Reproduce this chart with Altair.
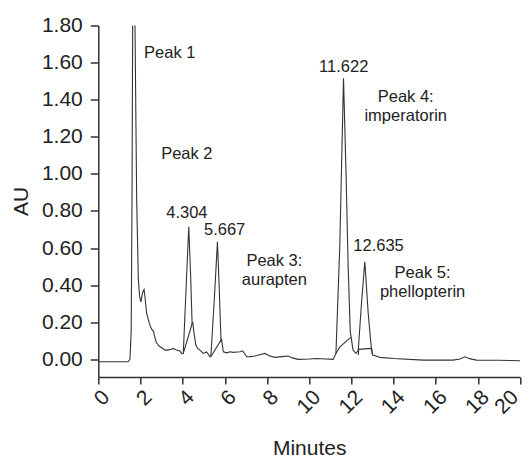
import altair as alt
import pandas as pd

# Chromatogram trace (minutes, AU)
trace_t = [0, 1.42, 1.5, 1.56, 1.6, 1.63, 1.68, 1.74, 1.82, 1.9, 1.96, 2.02, 2.1, 2.17,
           2.23, 2.29, 2.42, 2.5, 2.56, 2.62, 2.66, 2.74, 2.85, 2.93, 3.05, 3.16, 3.3,
           3.45, 3.56, 3.7, 3.87, 3.97, 4.03, 4.15, 4.29, 4.38, 4.45, 4.48, 4.53, 4.62,
           4.7, 4.82, 4.98, 5.14, 5.3, 5.34, 5.5, 5.65, 5.73, 5.82, 5.85, 5.93, 6.1,
           6.24, 6.4, 6.6, 6.72, 6.85, 7.04, 7.2, 7.43, 7.7, 7.9, 8.1, 8.38, 8.7, 9.01,
           9.2, 9.48, 10.0, 10.36, 10.8, 11.14, 11.27, 11.45, 11.63, 11.75, 11.85,
           11.95, 12.0, 12.08, 12.22, 12.33, 12.48, 12.64, 12.8, 12.95, 13.01, 13.28,
           13.36, 14.0, 15.41, 16.83, 17.15, 17.39, 17.6, 17.94, 19.0, 20.0]
trace_au = [-0.013, -0.013, 0.0, 0.15, 0.9, 1.8, 2.7, 1.8, 0.86, 0.43, 0.34, 0.31, 0.36,
            0.377, 0.32, 0.25, 0.194, 0.17, 0.158, 0.15, 0.13, 0.095, 0.075, 0.068, 0.06,
            0.05, 0.05, 0.055, 0.059, 0.05, 0.045, 0.03, 0.032, 0.35, 0.715, 0.45, 0.19,
            0.2, 0.15, 0.08, 0.06, 0.05, 0.032, 0.04, 0.014, 0.02, 0.32, 0.634, 0.4, 0.1,
            0.105, 0.041, 0.035, 0.041, 0.038, 0.04, 0.041, 0.046, 0.014, 0.015, 0.018,
            0.026, 0.032, 0.02, 0.011, 0.015, 0.018, 0.008, 0.0, 0.002, 0.005, 0.002, 0.0,
            0.032, 0.6, 1.515, 1.0, 0.5, 0.15, 0.115, 0.05, 0.032, 0.05, 0.3, 0.526, 0.25,
            0.06, 0.023, 0.014, 0.011, 0.005, -0.004, -0.004, 0.002, 0.014, 0.004, -0.004,
            -0.005, -0.007]

# Integration baselines under the labelled peaks
base_seg = ["p2", "p2", "p3", "p3", "p4", "p4", "p4", "p5", "p5", "p5", "p5"]
base_t = [4.03, 4.47, 5.34, 5.85, 11.27, 11.46, 11.97, 12.33, 12.35, 12.96, 13.01]
base_au = [0.032, 0.20, 0.014, 0.11, 0.032, 0.068, 0.119, 0.023, 0.054, 0.059, 0.023]

# Annotations
label_text = ["Peak 1", "Peak 2", "4.304", "5.667", "Peak 3:", "aurapten", "11.622",
              "Peak 4:", "imperatorin", "12.635", "Peak 5:", "phellopterin"]
label_t = [2.17, 2.98, 4.2, 5.99, 8.35, 8.35, 11.64, 14.58, 14.58, 13.29, 15.38, 15.38]
label_au = [1.65, 1.107, 0.79, 0.70, 0.53, 0.43, 1.578, 1.416, 1.31, 0.611, 0.467, 0.364]
label_align = ["left", "left", "center", "center", "center", "center", "center",
               "center", "center", "center", "center", "center"]

# Axis ticks
x_ticks = [0, 2, 4, 6, 8, 10, 12, 14, 16, 18, 20]
y_ticks = [0.0, 0.2, 0.4, 0.6, 0.8, 1.0, 1.2, 1.4, 1.6, 1.8]

trace = pd.DataFrame({"t": trace_t, "au": trace_au})
base = pd.DataFrame({"seg": base_seg, "t": base_t, "au": base_au})
labels = pd.DataFrame({"text": label_text, "t": label_t, "au": label_au, "align": label_align})

FONT = "Liberation Sans"
xscale = alt.Scale(domain=[0, 20], nice=False, zero=False)
yscale = alt.Scale(domain=[-0.095, 1.8], nice=False, zero=False)

xaxis = alt.Axis(values=x_ticks, title="Minutes", labelAngle=-45,
                 labelFontSize=21, titleFontSize=21, titleFontWeight="normal",
                 labelFont=FONT, titleFont=FONT, labelColor="#222", titleColor="#222",
                 domainColor="#333", tickColor="#333", domainWidth=1.5, tickWidth=1.5,
                 tickSize=7, labelPadding=2, grid=False, titleY=77,
                 titleBaseline="alphabetic", labelOverlap=False, labelBound=False,
                 labelOffset={"condition": {"test": "datum.value == 20", "value": -13},
                              "value": 0})
yaxis = alt.Axis(values=y_ticks, format=".2f", title="AU", tickCount=10,
                 labelFontSize=21, titleFontSize=21, titleFontWeight="normal",
                 labelFont=FONT, titleFont=FONT, labelColor="#222", titleColor="#222",
                 domainColor="#333", tickColor="#333", domainWidth=1.5, tickWidth=1.5,
                 tickSize=8, labelPadding=8, grid=False, titleX=-71, titleY=175.5,
                 titleBaseline="alphabetic", titleAlign="center", titleAngle=-90,
                 labelOverlap=False, labelFlush=False)

X = alt.X("t:Q", scale=xscale, axis=xaxis)
Y = alt.Y("au:Q", scale=yscale, axis=yaxis)

line = alt.Chart(trace).mark_line(color="#333", strokeWidth=1.1, clip=True).encode(
    x=X, y=Y, order="t:Q",
)
baselines = alt.Chart(base).mark_line(color="#333", strokeWidth=1.1).encode(
    x=X, y=Y, detail="seg:N", order="t:Q",
)
text_left = alt.Chart(labels[labels["align"] == "left"]).mark_text(
    align="left", baseline="middle", fontSize=16.5, font=FONT, color="#222"
).encode(x=X, y=Y, text="text:N")
text_center = alt.Chart(labels[labels["align"] == "center"]).mark_text(
    align="center", baseline="middle", fontSize=16.5, font=FONT, color="#222"
).encode(x=X, y=Y, text="text:N")

chart = alt.layer(line, baselines, text_left, text_center).properties(
    width=421.7, height=351.5,
    autosize=alt.AutoSizeParams(type="none"),
    padding={"left": 90.3, "top": 17.5, "right": 4, "bottom": 80},
).configure_view(stroke=None)

chart.save("out.html", embed_options={"renderer": "svg", "actions": False})
